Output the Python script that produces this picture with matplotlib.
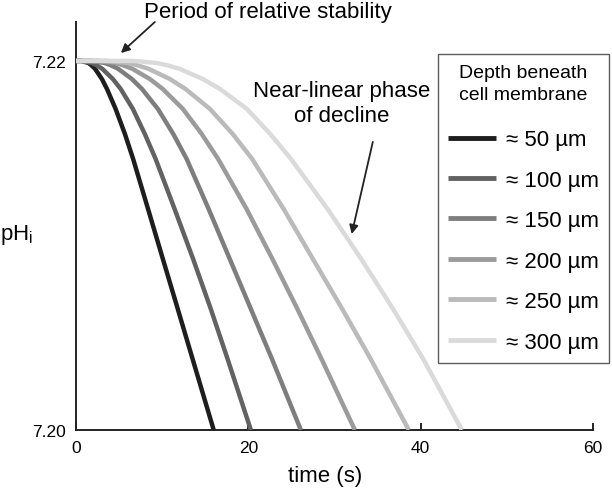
import matplotlib.pyplot as plt

plt.rcParams['font.family'] = ['Liberation Sans', 'DejaVu Sans']

# values
depths = ['≈ 50 µm', '≈ 100 µm', '≈ 150 µm', '≈ 200 µm', '≈ 250 µm', '≈ 300 µm']
colors = ['#1e1e1e', '#626262', '#7e7e7e', '#9b9b9b', '#bababa', '#dadada']

ph_levels = [7.2200, 7.2200, 7.21989, 7.21978, 7.21957, 7.21902, 7.21848, 7.21740,
             7.21604, 7.21469, 7.21198, 7.20927, 7.20656, 7.20385, 7.2000]

t_50 = [0, 0.65, 1.44, 1.77, 2.23, 3.02, 3.61, 4.61, 5.69, 6.64, 8.37, 10.09, 11.82, 13.54, 15.99]
t_100 = [0, 0.63, 1.85, 2.36, 3.07, 4.29, 5.20, 6.61, 8.0, 9.25, 11.45, 13.6, 15.65, 17.6, 20.3]
t_150 = [0, 1.75, 3.33, 3.99, 4.91, 6.50, 7.67, 9.51, 11.3, 12.85, 15.4, 17.85, 20.3, 22.75, 26.1]
t_200 = [0, 2.54, 4.55, 5.39, 6.57, 8.58, 10.08, 12.41, 14.6, 16.5, 19.8, 22.8, 25.7, 28.5, 32.37]
t_250 = [0, 3.56, 6.01, 7.02, 8.45, 10.90, 12.72, 15.55, 18.2, 20.45, 24.1, 27.5, 30.9, 34.2, 38.63]
t_300 = [0, 6.67, 9.36, 10.47, 12.04, 14.73, 16.72, 19.84, 22.55, 24.95, 29.2, 33.1, 36.8, 40.3, 44.78]
times = [t_50, t_100, t_150, t_200, t_250, t_300]

fig = plt.figure(figsize=(6.12, 4.89), dpi=100)
ax = fig.add_axes([0.124, 0.1186, 0.845, 0.834])

for i in range(len(depths)):
    ax.plot(times[i], ph_levels, color=colors[i], lw=3.2, label=depths[i],
            solid_capstyle='butt', solid_joinstyle='round', zorder=2 + i)

ax.set_xlim(0, 60)
ax.set_ylim(7.20, 7.2221)
ax.set_xticks([0, 20, 40, 60])
ax.set_yticks([7.20, 7.22])
ax.set_yticklabels(['7.20', '7.22'])
ax.tick_params(axis='x', direction='in', length=5, width=1.2, labelsize=12.5, pad=7)
ax.tick_params(axis='y', length=0, labelsize=12.5, pad=7)
for s in ['top', 'right']:
    ax.spines[s].set_visible(False)
for s in ['left', 'bottom']:
    ax.spines[s].set_linewidth(1.4)
    ax.spines[s].set_color('#222222')

ax.set_xlabel('time (s)', fontsize=16)
ax.xaxis.set_label_coords(0.482, -0.085)
ax.set_ylabel('pH$_\\mathregular{i}$', fontsize=16, rotation=0, ha='center', va='center')
ax.yaxis.set_label_coords(-0.115, 0.48)

arrow = dict(arrowstyle='-|>', color='#222222', lw=1.3, mutation_scale=13,
             shrinkA=0, shrinkB=0)

ax.text(7.89, 7.22236, 'Period of relative stability', fontsize=16,
        ha='left', va='baseline', clip_on=False)
ax.annotate('', xy=(5.22, 7.22043), xytext=(9.16, 7.22211),
            annotation_clip=False, arrowprops=arrow)

ax.text(30.86, 7.21772, 'Near-linear phase\nof decline', fontsize=16, ha='center',
        va='center', linespacing=1.3)
ax.annotate('', xy=(32.0, 7.21062), xytext=(34.45, 7.21561), arrowprops=arrow)

leg = ax.legend(loc='upper right', bbox_to_anchor=(0.995, 0.888),
                bbox_transform=fig.transFigure, title='Depth beneath\ncell membrane',
                fontsize=16, title_fontsize=14, frameon=True, fancybox=False,
                edgecolor='#333333', handlelength=2.15, handletextpad=0.45,
                labelspacing=0.875, borderpad=0.45, borderaxespad=0)
leg.get_frame().set_linewidth(1.0)
leg.get_title().set_multialignment('center')
leg.get_title().set_linespacing(1.4)
# a bit more room between the legend title and the entries
leg._legend_box.sep = 19
for line in leg.get_lines():
    line.set_linewidth(3.5)

fig.savefig('out.png', dpi=100)
